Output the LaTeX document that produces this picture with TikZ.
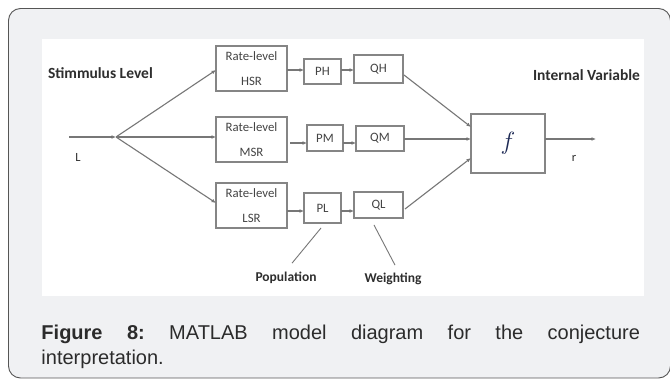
\documentclass[tikz,border=0pt]{standalone}
\usepackage{fontspec}
\setmainfont{Carlito}
\newfontfamily\capfont{Liberation Sans}
\usetikzlibrary{arrows.meta,calc}

\begin{document}
\begin{tikzpicture}[
  x=1pt, y=-1pt,
  every node/.style={inner sep=0pt, outer sep=0pt},
  blk/.style={draw=BoxLine, line width=1.1pt, fill=white, text=BoxText,
    font=\fontsize{12.8}{25}\selectfont, align=center},
  wire/.style={draw=WireGray, line width=1.1pt},
  arr/.style={wire, -{Latex[length=4.5pt,width=3.8pt,fill=TipGray]}},
  lbl/.style={text=LabelText, font=\bfseries\fontsize{15.5}{18}\selectfont},
  sublbl/.style={text=LabelText, font=\bfseries\fontsize{13.5}{16}\selectfont},
  sig/.style={text=LabelText, font=\fontsize{12.5}{15}\selectfont},
]

% ── colors ──
\definecolor{PanelBg}{HTML}{F0F1F3}
\definecolor{FrameLine}{HTML}{555555}
\definecolor{WireGray}{HTML}{777777}
\definecolor{TipGray}{HTML}{222222}
\definecolor{BoxLine}{HTML}{858585}
\definecolor{BoxText}{HTML}{444444}
\definecolor{LabelText}{HTML}{2E2E2E}
\definecolor{CapText}{HTML}{2B2B2B}
\definecolor{FunText}{HTML}{1E2A55}

\useasboundingbox (0,0) rectangle (670,379);

% ── frame and panel ──
\draw[FrameLine, fill=PanelBg, line width=0.9pt, rounded corners=12pt] (8.5,8.5) rectangle (670.5,378);
\fill[white] (41.5,39) rectangle (644,296);

% ── side labels ──
\node[lbl, anchor=west] (stim) at (48,73) {Stimmulus Level};
\node[lbl, anchor=east] (intv) at (640,75) {Internal Variable};

% ── blocks ──
\node[blk, minimum width=71pt, minimum height=45pt] (hsr) at (251.5,68.5) {Rate-level\\HSR};
\node[blk, minimum width=71pt, minimum height=45pt] (msr) at (251.5,139.5) {Rate-level\\MSR};
\node[blk, minimum width=71pt, minimum height=45pt] (lsr) at (251.5,205.5) {Rate-level\\LSR};
\node[blk, minimum width=37pt, minimum height=25pt] (ph) at (322.5,71.5) {PH};
\node[blk, minimum width=36pt, minimum height=26pt] (pm) at (325,138) {PM};
\node[blk, minimum width=37pt, minimum height=30pt] (pl) at (322.5,208) {PL};
\node[blk, minimum width=49pt, minimum height=28pt] (qh) at (378.5,69) {QH};
\node[blk, minimum width=48pt, minimum height=25pt] (qm) at (380,138.5) {QM};
\node[blk, minimum width=49pt, minimum height=26pt] (ql) at (378.5,205) {QL};
\node[blk, minimum width=74pt, minimum height=59pt, text=FunText,
  font=\fontsize{23}{26}\selectfont] (fun) at (508,143.5) {$f$};

% ── input and splitting ──
\coordinate (lin) at (69,137);
\coordinate (jct) at (116,137);
\node[sig] (lsig) at (78,157) {L};
\draw[arr] (lin) -- (jct);
\draw[arr] (jct) -- ($(hsr.west)+(0,1.5)$);
\draw[arr] (jct) -- ($(msr.west)+(0,-2.5)$);
\draw[arr] (jct) -- ($(lsr.west)+(0,-2.5)$);

% ── channels ──
\draw[arr] ($(hsr.east)+(0,1.5)$) -- ($(ph.west)+(0,-1.5)$);
\draw[arr] ($(ph.east)+(0,-1.5)$) -- ($(qh.west)+(0,1)$);
\draw[arr] ($(msr.east)+(3,3.5)$) -- ($(pm.west)+(0,5)$);
\draw[arr] ($(pm.east)+(0,5)$) -- ($(qm.west)+(0,4.5)$);
\draw[arr] ($(lsr.east)+(0,5.5)$) -- ($(pl.west)+(0,3)$);
\draw[arr] ($(pl.east)+(0,3)$) -- ($(ql.west)+(0,6)$);

% ── merging into f ──
\draw[arr] ($(qh.east)+(1,6)$) -- ($(fun.west)+(0,-16.5)$);
\draw[arr] ($(qm.east)+(0,0.5)$) -- ($(fun.west)+(0,-4.5)$);
\draw[arr] ($(ql.east)+(2,4)$) -- ($(fun.west)+(0,14.5)$);
\coordinate (rout) at (596,139);
\node[sig] (rsig) at (574,158) {r};
\draw[arr] ($(fun.east)+(0,-4.5)$) -- (rout);

% ── annotations ──
\node[sublbl] (pop) at (286,278) {Population};
\node[sublbl] (wgt) at (393,279) {Weighting};
\draw[wire, line width=0.9pt] ($(pl.south)+(-1.5,5)$) -- ($(pop.north)+(6,-9)$);
\draw[wire, line width=0.9pt] ($(ql.south)+(-4.5,7)$) -- ($(wgt.north)+(2,-8)$);

% ── caption ──
\node[anchor=north west, text width=598.5pt, align=justify, text=CapText,
  font=\capfont\fontsize{20}{25}\selectfont] (cap) at (41.5,325)
  {\frenchspacing\textbf{Figure 8:} MATLAB model diagram for the conjecture\linebreak interpretation.};

\end{tikzpicture}
\end{document}
